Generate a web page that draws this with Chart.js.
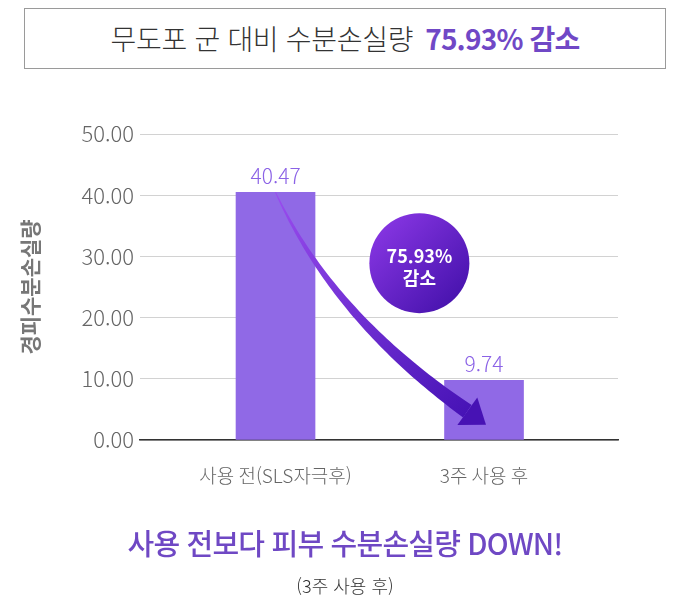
<!DOCTYPE html>
<html lang="ko">
<head>
<meta charset="utf-8">
<script src="https://cdn.jsdelivr.net/npm/chart.js@4/dist/chart.umd.min.js"></script>
<style>
   html, body { margin: 0; background: #fff; }
   body { width: 686px; height: 602px; position: relative; overflow: hidden; font-family: "Noto Sans CJK KR", "Noto Sans", sans-serif; }
   #tewlChart { position: absolute; left: 0; top: 0; }
   .titlebox { position: absolute; left: 24px; top: 8px; width: 642px; height: 61px; box-sizing: border-box; border: 1px solid #9a9a9a; text-align: center; line-height: 59px; font-size: 28px; color: #333; font-weight: 300; letter-spacing: -0.3px; }
   .titlebox b { color: #7048c6; font-weight: 700; margin-left: 12px; letter-spacing: -0.8px; }
   .down { position: absolute; left: 0; width: 690px; top: 522px; text-align: center; font-size: 29px; line-height: 40px; color: #6f48c4; font-weight: 500; letter-spacing: -0.8px; }
   .sub { position: absolute; left: 0; width: 690px; top: 572px; text-align: center; font-size: 18px; line-height: 26px; color: #333; font-weight: 300; }
</style>
</head>
<body>
<div class="titlebox">무도포 군 대비 수분손실량<b>75.93% 감소</b></div>
<canvas id="tewlChart" width="686" height="602"></canvas>
<div class="down">사용 전보다 피부 수분손실량 DOWN!</div>
<div class="sub">(3주 사용 후)</div>
<script>
// kategorier och värden
const categories = ['사용 전(SLS자극후)', '3주 사용 후'];
const tewlValues = [40.47, 9.74];
const yTicks = [0, 10, 20, 30, 40, 50];
const badgeLines = ['75.93%', '감소'];
const yTitle = '경피수분손실량';

// badge + pil placeras i dataenheter
const badgePos = { x: 0.69, y: 28.9 };
const arrowStart = { x: 0, y: tewlValues[0] };
const arrowCtrl = { x: 0.28, y: 19.9 };
const arrowEnd = { x: 0.92, y: 4.7 };

const FONT = '"Noto Sans CJK KR", "Noto Sans", sans-serif';

// ritar värden, pil och badge ovanpå staplarna
const overlayPlugin = {
   id: 'overlay',
   afterDatasetsDraw(chart) {
      const ctx = chart.ctx;
      const xs = chart.scales.x, ys = chart.scales.y;
      const px = p => ({ x: xs.getPixelForValue(p.x), y: ys.getPixelForValue(p.y) });

      // värdeetiketter
      const meta = chart.getDatasetMeta(0);
      ctx.save();
      ctx.font = '300 21px ' + FONT;
      ctx.fillStyle = '#8b62e6';
      ctx.textAlign = 'center';
      ctx.textBaseline = 'middle';
      meta.data.forEach((bar, i) => {
         ctx.fillText(tewlValues[i].toFixed(2), bar.x, bar.y - 16);
      });
      ctx.restore();

      // pil (avsmalnande kurva)
      const p0 = px(arrowStart), c = px(arrowCtrl), p2 = px(arrowEnd);
      const pt = t => ({
         x: (1 - t) * (1 - t) * p0.x + 2 * (1 - t) * t * c.x + t * t * p2.x,
         y: (1 - t) * (1 - t) * p0.y + 2 * (1 - t) * t * c.y + t * t * p2.y
      });
      const tan = t => {
         const dx = 2 * (1 - t) * (c.x - p0.x) + 2 * t * (p2.x - c.x);
         const dy = 2 * (1 - t) * (c.y - p0.y) + 2 * t * (p2.y - c.y);
         const l = Math.hypot(dx, dy);
         return { x: dx / l, y: dy / l };
      };
      const left = [], right = [];
      const N = 60;
      for (let i = 0; i <= N; i++) {
         const t = i / N;
         const p = pt(t), d = tan(t);
         const w = (1 + 14 * t) / 2;
         left.push({ x: p.x - d.y * w, y: p.y + d.x * w });
         right.push({ x: p.x + d.y * w, y: p.y - d.x * w });
      }
      const grad = ctx.createLinearGradient(p0.x, p0.y, p2.x, p2.y);
      grad.addColorStop(0, '#9a4cef');
      grad.addColorStop(1, '#4713b6');
      ctx.save();
      ctx.fillStyle = grad;
      ctx.beginPath();
      left.forEach((p, i) => i ? ctx.lineTo(p.x, p.y) : ctx.moveTo(p.x, p.y));
      right.reverse().forEach(p => ctx.lineTo(p.x, p.y));
      ctx.closePath();
      ctx.fill();
      // pilspets
      const d = tan(0.96);
      const hl = 23, hw = 17;
      ctx.fillStyle = '#4712b4';
      ctx.beginPath();
      ctx.moveTo(p2.x + d.x * hl, p2.y + d.y * hl);
      ctx.lineTo(p2.x - d.y * hw, p2.y + d.x * hw);
      ctx.lineTo(p2.x + d.y * hw, p2.y - d.x * hw);
      ctx.closePath();
      ctx.fill();
      ctx.restore();

      // badge
      const b = px(badgePos);
      const r = 50;
      const bg = ctx.createLinearGradient(b.x - r, b.y - r, b.x + r, b.y + r);
      bg.addColorStop(0, '#8f3ae9');
      bg.addColorStop(1, '#3e0ea6');
      ctx.save();
      ctx.fillStyle = bg;
      ctx.beginPath();
      ctx.arc(b.x, b.y, r, 0, Math.PI * 2);
      ctx.fill();
      ctx.fillStyle = '#fff';
      ctx.font = 'bold 18px ' + FONT;
      ctx.textAlign = 'center';
      ctx.textBaseline = 'middle';
      ctx.fillText(badgeLines[0], b.x, b.y - 7);
      ctx.fillText(badgeLines[1], b.x, b.y + 15);
      ctx.restore();
   }
};

new Chart(document.getElementById('tewlChart'), {
   type: 'bar',
   data: {
      datasets: [{
         data: tewlValues.map((v, i) => ({ x: i, y: v })),
         backgroundColor: '#9069e6',
         barThickness: 79
      }]
   },
   options: {
      responsive: false,
      animation: false,
      layout: { padding: { left: 0, top: 134, right: 68, bottom: 102 } },
      plugins: { legend: { display: false }, tooltip: { enabled: false } },
      scales: {
         x: {
            type: 'linear',
            offset: false,
            min: -0.65,
            max: 1.6426,
            afterBuildTicks: s => { s.ticks = categories.map((c, i) => ({ value: i })); },
            afterFit: s => { s.height = 60; },
            grid: { display: false, drawTicks: false, offset: false },
            border: { display: true, color: '#333', width: 1.5 },
            ticks: {
               padding: 24,
               color: '#666',
               font: { family: FONT, size: 19, weight: 300 },
               callback: v => categories[v]
            }
         },
         y: {
            min: 0,
            max: 50,
            afterBuildTicks: s => { s.ticks = yTicks.map(v => ({ value: v })); },
            afterFit: s => { s.width = 140; },
            grid: { color: '#d2d2d2', drawTicks: false },
            border: { display: false },
            ticks: {
               padding: 6,
               color: '#666',
               font: { family: FONT, size: 22, weight: 300 },
               callback: v => v.toFixed(2)
            },
            title: {
               display: true,
               text: yTitle,
               color: '#777',
               font: { family: FONT, size: 21, weight: 'bold' },
               padding: { top: 17, bottom: 0 }
            }
         }
      }
   },
   plugins: [overlayPlugin]
});
</script>
</body>
</html>
